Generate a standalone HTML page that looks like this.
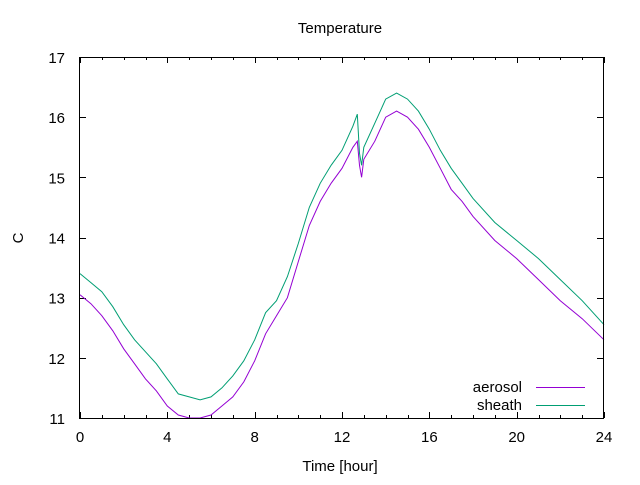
<!DOCTYPE html>
<html><head><meta charset="utf-8"><style>
body{margin:0;background:#fff}
text{font-family:"Liberation Sans",sans-serif;font-size:15px;fill:#000}
</style></head><body>
<svg id="c" width="640" height="480" xmlns="http://www.w3.org/2000/svg">
<text x="340" y="33" text-anchor="middle">Temperature</text>
<text x="340" y="471" text-anchor="middle">Time [hour]</text>
<text x="17" y="244" text-anchor="middle" transform="rotate(-90 17 238)">C</text>
<g id="ticks"></g>
<g id="series"></g>
<rect x="79.5" y="57.5" width="524" height="361" fill="none" stroke="#000"/>
<g>
<text x="522" y="392" text-anchor="end">aerosol</text>
<line x1="536" y1="387.5" x2="585" y2="387.5" stroke="#9400d3"/>
<text x="522" y="410" text-anchor="end">sheath</text>
<line x1="536" y1="405.5" x2="585" y2="405.5" stroke="#009e73"/>
</g>
</svg>
<script>
const xTicks=[0,4,8,12,16,20,24];
const yTicks=[11,12,13,14,15,16,17];
const times=[0,0.5,1,1.5,2,2.5,3,3.5,4,4.5,5,5.5,6,6.5,7,7.5,8,8.5,9,9.5,10,10.5,11,11.5,12,12.5,12.7,12.8,12.9,13,13.5,14,14.5,15,15.5,16,16.5,17,17.5,18,19,20,21,22,23,24];
const sheath=[13.4,13.25,13.1,12.85,12.55,12.3,12.1,11.9,11.65,11.4,11.35,11.3,11.35,11.5,11.7,11.95,12.3,12.75,12.95,13.35,13.9,14.5,14.9,15.2,15.45,15.85,16.05,15.4,15.2,15.5,15.9,16.3,16.4,16.3,16.1,15.8,15.45,15.15,14.9,14.65,14.25,13.95,13.65,13.3,12.95,12.55];
const aerosol=[13.05,12.9,12.7,12.45,12.15,11.9,11.65,11.45,11.2,11.05,11.0,11.0,11.05,11.2,11.35,11.6,11.95,12.4,12.7,13.0,13.6,14.2,14.6,14.9,15.15,15.5,15.6,15.2,15.0,15.3,15.6,16.0,16.1,16.0,15.8,15.5,15.15,14.8,14.6,14.35,13.95,13.65,13.3,12.95,12.65,12.3];
const NS='http://www.w3.org/2000/svg';
const X=t=>80+t*(524/24);
const Y=v=>418-(v-11)*(361/6);
const tg=document.getElementById('ticks');
function mk(tag,a,p){const e=document.createElementNS(NS,tag);for(const k in a)e.setAttribute(k,a[k]);p.appendChild(e);return e;}
for(let h=0;h<=24;h++){
  const len=h%4===0?6:3;const x=Math.round(X(h))+0.5;
  const l=mk('line',{x1:x,y1:418,x2:x,y2:418-len,stroke:'#000'},tg);
  
  
  const l2=mk('line',{x1:x,y1:57,x2:x,y2:57+len,stroke:'#000'},tg);
  
  
}
xTicks.forEach(t=>{const e=mk('text',{x:X(t),y:442,'text-anchor':'middle'},tg);e.textContent=t;
  
  });
yTicks.forEach(v=>{const y=Math.round(Y(v))+0.5;
  const l=mk('line',{x1:80,y1:y,x2:86,y2:y,stroke:'#000'},tg);
  
  
  const r=mk('line',{x1:597,y1:y,x2:603,y2:y,stroke:'#000'},tg);
  
  
  const e=mk('text',{x:65,y:Y(v)+6,'text-anchor':'end'},tg);e.textContent=v;
  
  });
const sg=document.getElementById('series');
function line(vals,color,name){
  const d=vals.map((v,i)=>(i?'L':'M')+X(times[i]).toFixed(1)+','+Y(v).toFixed(1)).join('');
  const p=mk('path',{d:d,fill:'none',stroke:color,'stroke-width':1},sg);
  
  
}
line(aerosol,'#9400d3','aerosol-line');
line(sheath,'#009e73','sheath-line');
</script>
</body></html>
